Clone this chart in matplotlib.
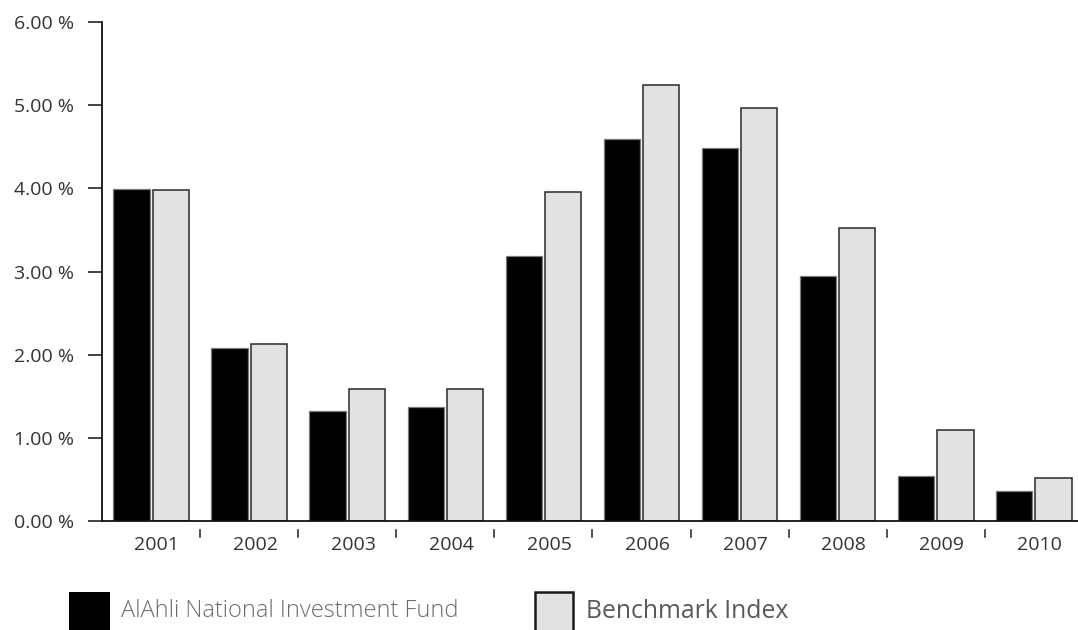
import matplotlib
matplotlib.use("Agg")
import matplotlib.pyplot as plt
from matplotlib.patches import Rectangle
from matplotlib.transforms import blended_transform_factory
import numpy as np

plt.rcParams['font.family'] = ['Open Sans', 'DejaVu Sans']

years = ['2001', '2002', '2003', '2004', '2005', '2006', '2007', '2008', '2009', '2010']
fund = [3.99, 2.08, 1.32, 1.37, 3.19, 4.59, 4.49, 2.95, 0.54, 0.36]
benchmark = [3.98, 2.13, 1.59, 1.59, 3.95, 5.24, 4.97, 3.52, 1.10, 0.52]
yticks = [0, 1, 2, 3, 4, 5, 6]
legend_labels = ['AlAhli National Investment Fund', 'Benchmark Index']

W, H = 1078, 630
fig = plt.figure(figsize=(W / 100, H / 100), dpi=100)
ax = fig.add_axes([102 / W, (H - 521) / H, 1 - 102 / W, (521 - 22) / H])

x = np.arange(len(years))
ax.bar(x - 0.2, fund, width=0.37, color='#000000', edgecolor='#7a7a7a', linewidth=0.9, zorder=2)
ax.bar(x + 0.2, benchmark, width=0.37, color='#e1e2e4', edgecolor='#2a2a2a', linewidth=1.1, zorder=2)

ax.set_xlim(-0.5, 9.45)
ax.set_ylim(0, 6)

for s in ['top', 'right']:
    ax.spines[s].set_visible(False)
for s in ['left', 'bottom']:
    ax.spines[s].set_linewidth(1.3)
    ax.spines[s].set_color('#111111')

ax.set_yticks(yticks)
ax.set_yticklabels([f'{v:.2f} %' for v in yticks])
ax.tick_params(axis='y', direction='out', length=10, width=1.1, color='#111111',
               pad=10, labelsize=14, labelcolor='#333333')
ax.set_xticks(x + 0.06)
ax.set_xticklabels(years)
ax.tick_params(axis='x', length=0, pad=11, labelsize=14, labelcolor='#333333')

# category separators below the axis
trans = blended_transform_factory(ax.transData, ax.transAxes)
for b in x[:-1] + 0.5:
    ax.plot([b, b], [-0.032, -0.019], transform=trans, color='#222222', lw=1.1, clip_on=False)

# legend
fig.add_artist(Rectangle((69 / W, (H - 634) / H), 41 / W, 42 / H, transform=fig.transFigure,
                         facecolor='#000000', edgecolor='none'))
fig.text(121 / W, (H - 611) / H, legend_labels[0], fontsize=17, color='#6d6e71',
         fontweight='light', va='center', ha='left')
fig.add_artist(Rectangle((535 / W, (H - 634) / H), 38 / W, 42 / H, transform=fig.transFigure,
                         facecolor='#e1e2e4', edgecolor='#1a1a1a', linewidth=1.8))
fig.text(586 / W, (H - 611) / H, legend_labels[1], fontsize=17.8, color='#58595b',
         va='center', ha='left')

fig.savefig('out.png', dpi=100)
